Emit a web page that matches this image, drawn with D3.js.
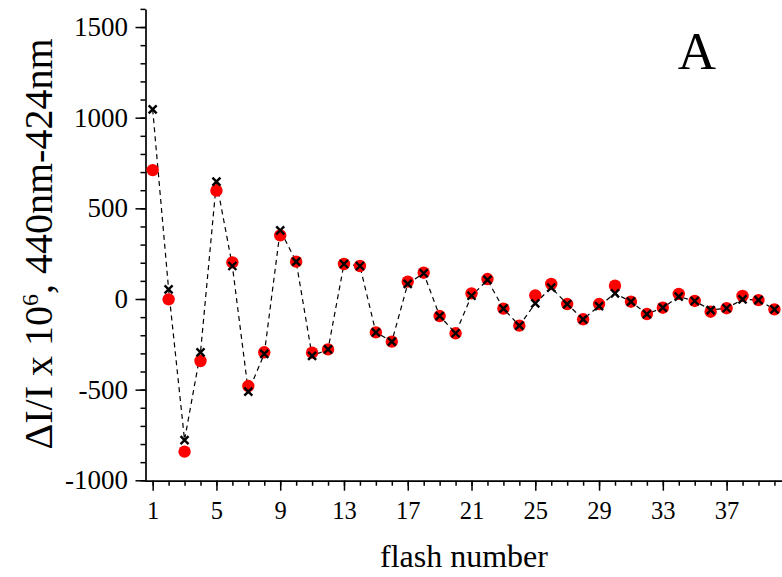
<!DOCTYPE html>
<html>
<head>
<meta charset="utf-8">
<script src="https://cdn.jsdelivr.net/npm/d3@7"></script>
<style>
  html, body { margin: 0; padding: 0; background: #fff; }
  svg { display: block; }
  text { font-family: "Liberation Serif", "Times New Roman", serif; fill: #000; }
</style>
</head>
<body>
<svg id="chart" width="782" height="577"></svg>
<script>
// ---- data ----
const flashNumbers = [1,2,3,4,5,6,7,8,9,10,11,12,13,14,15,16,17,18,19,20,
                      21,22,23,24,25,26,27,28,29,30,31,32,33,34,35,36,37,38,39,40];
const measured = [711, -2, -842, -342, 598, 202, -480, -294, 351, 206,
                  -296, -278, 193, 182, -184, -235, 96, 145, -94, -189,
                  31, 110, -53, -147, 20, 83, -28, -112, -28, 73,
                  -15, -83, -48, 28, -11, -70, -51, 17, -6, -57];
const fitted = [1046, 53, -778, -294, 647, 182, -511, -303, 379, 206,
                -314, -278, 193, 182, -184, -235, 83, 142, -94, -189,
                18, 105, -53, -147, -24, 63, -28, -112, -39, 31,
                -15, -83, -48, 13, -11, -61, -51, -2, -6, -57];
const xTickLabels = [1,5,9,13,17,21,25,29,33,37];
const yTickLabels = [-1000,-500,0,500,1000,1500];

// ---- layout ----
const svg = d3.select("#chart");
const x = d3.scaleLinear().domain([0.5, 40.5]).range([144.7, 782.4]);
const y = d3.scaleLinear().domain([-1000, 1600]).range([480.3, 8.9]);
const axisY0 = 480.7, axisX0 = 145.5;
const plain = d => String(d);

// ---- axes ----
const xMinor = d3.axisBottom(x).tickValues(flashNumbers).tickSize(5).tickFormat("");
const gxm = svg.append("g").attr("transform", `translate(0,${axisY0})`).call(xMinor);
gxm.select(".domain").remove();
gxm.selectAll("line").attr("stroke", "#000").attr("stroke-width", 1.5);

const xMajor = d3.axisBottom(x).tickValues(xTickLabels).tickSize(10).tickSizeOuter(0).tickFormat(plain);
const gx = svg.append("g").attr("transform", `translate(0,${axisY0})`).call(xMajor)
  .attr("font-family", "Liberation Serif");
gx.select(".domain").attr("stroke", "#000").attr("stroke-width", 1.7);
gx.selectAll("line").attr("stroke", "#000").attr("stroke-width", 1.5);
gx.selectAll("text").attr("y", 38).attr("dy", 0)
  .style("font-size", "24.5px").style("font-family", "Liberation Serif");

const yMinorVals = d3.range(-1000, 1601, 100);
const yMinor = d3.axisLeft(y).tickValues(yMinorVals).tickSize(5).tickFormat("");
const gym = svg.append("g").attr("transform", `translate(${axisX0},0)`).call(yMinor);
gym.select(".domain").remove();
gym.selectAll("line").attr("stroke", "#000").attr("stroke-width", 1.5);

const yMajor = d3.axisLeft(y).tickValues(yTickLabels).tickSize(10).tickSizeOuter(0)
  .tickPadding(7.5).tickFormat(plain);
const gy = svg.append("g").attr("transform", `translate(${axisX0},0)`).call(yMajor)
  .attr("font-family", "Liberation Serif");
gy.select(".domain").attr("stroke", "#000").attr("stroke-width", 1.7);
gy.selectAll("line").attr("stroke", "#000").attr("stroke-width", 1.5);
gy.selectAll("text").style("font-size", "27px").style("font-family", "Liberation Serif");

// ---- series ----
const line = d3.line().x((d, i) => x(flashNumbers[i])).y(d => y(d));
svg.append("path").datum(fitted)
  .attr("d", line).attr("fill", "none").attr("stroke", "#000")
  .attr("stroke-width", 1.2).attr("stroke-dasharray", "5,4");

svg.append("g").selectAll("circle").data(measured).join("circle")
  .attr("cx", (d, i) => x(flashNumbers[i])).attr("cy", d => y(d))
  .attr("r", 6.2).attr("fill", "#ff0000");

const cr = 4;
svg.append("g").selectAll("path").data(fitted).join("path")
  .attr("d", (d, i) => {
    const cx = x(flashNumbers[i]), cy = y(d);
    return `M${cx-cr},${cy-cr}L${cx+cr},${cy+cr}M${cx-cr},${cy+cr}L${cx+cr},${cy-cr}`;
  })
  .attr("stroke", "#000").attr("stroke-width", 2.4).attr("fill", "none");

// ---- labels ----
svg.append("text").attr("x", 697).attr("y", 69).attr("text-anchor", "middle")
  .style("font-size", "53px").text("A");

svg.append("text").attr("x", 464).attr("y", 567).attr("text-anchor", "middle")
  .style("font-size", "32px").text("flash number");

const yl = svg.append("text")
  .attr("transform", "translate(52,244) rotate(-90)")
  .attr("text-anchor", "middle").style("font-size", "40px");
yl.append("tspan").text("\u0394I/I x 10");
yl.append("tspan").attr("dy", -14).style("font-size", "24px").text("6");
yl.append("tspan").attr("dy", 14).text(", 440nm-424nm");
</script>
</body>
</html>
